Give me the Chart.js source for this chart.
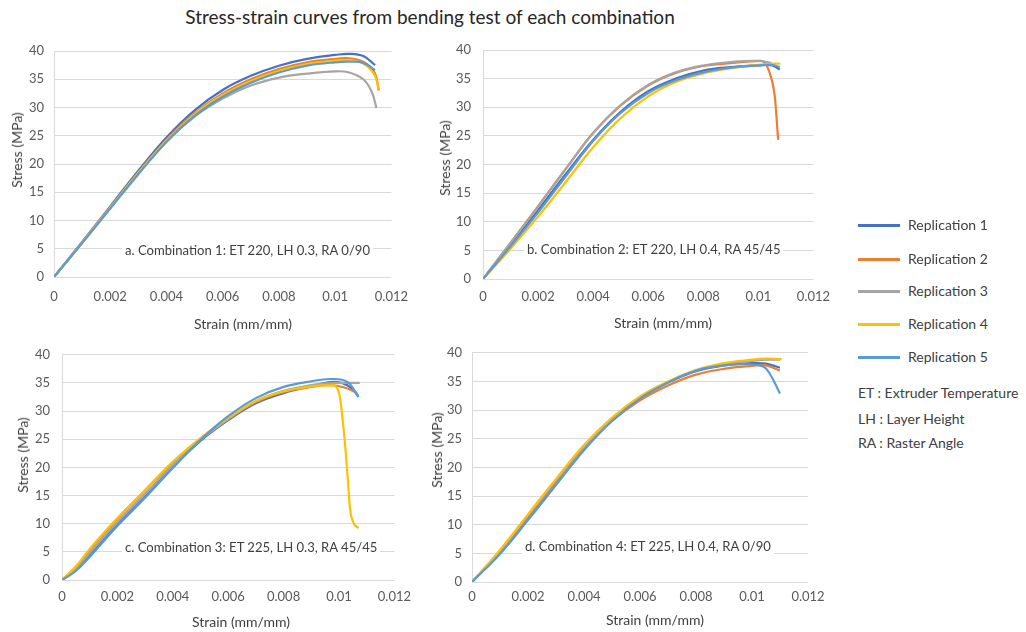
<!DOCTYPE html>
<html><head><meta charset="utf-8">
<script src="https://cdn.jsdelivr.net/npm/chart.js@4.4.1/dist/chart.umd.min.js"></script>
<style>
body{margin:0;background:#fff;width:1026px;height:632px;overflow:hidden;position:relative;font-family:Lato,"Open Sans",sans-serif;color:#404040}
.pnl{position:absolute}
.txt{position:absolute;white-space:nowrap;line-height:1}
.rot{transform:translate(-50%,-50%) rotate(-90deg)}
.ctr{transform:translate(-50%,-50%)}
.ann{background:#fff;padding:1px 3px;transform:translateY(-50%);font-size:13.1px;color:#404040}
.sw{position:absolute;height:2.5px;width:42px}
</style></head>
<body>
<div class="txt ctr" style="left:430px;top:16px;font-size:19px;color:#262626">Stress-strain curves from bending test of each combination</div>
<script>
// ---- data ----
const seriesNames = ['Replication 1','Replication 2','Replication 3','Replication 4','Replication 5'];
const xTicks = [0,0.002,0.004,0.006,0.008,0.01,0.012];
const yTicks = [0,5,10,15,20,25,30,35,40];

// a. Combination 1
const aStrain1 = [0,0.001,0.002,0.003,0.004,0.005,0.006,0.007,0.008,0.009,0.010,0.0105,0.011,0.01142];
const aStress1 = [0,6.2,12.5,18.8,24.7,29.5,33.1,35.6,37.4,38.6,39.3,39.5,39.1,37.5];
const aStrain2 = [0,0.001,0.002,0.003,0.004,0.005,0.006,0.007,0.008,0.009,0.010,0.0105,0.011,0.0114,0.01155];
const aStress2 = [0,6.1,12.3,18.5,24.3,29.0,32.5,35.0,36.8,38.0,38.6,38.7,38.1,36.2,33.0];
const aStrain3 = [0,0.001,0.002,0.003,0.004,0.005,0.006,0.007,0.008,0.009,0.010,0.0105,0.011,0.0113,0.01147];
const aStress3 = [0,6.1,12.3,18.4,24.0,28.4,31.6,33.9,35.3,36.0,36.4,36.2,35.0,32.8,29.9];
const aStrain4 = [0,0.001,0.002,0.003,0.004,0.005,0.006,0.007,0.008,0.009,0.010,0.0105,0.011,0.0114,0.01155];
const aStress4 = [0,6.0,12.2,18.4,24.1,28.8,32.2,34.7,36.5,37.7,38.3,38.4,37.8,35.8,33.2];
const aStrain5 = [0,0.001,0.002,0.003,0.004,0.005,0.006,0.007,0.008,0.009,0.010,0.0105,0.011,0.01142];
const aStress5 = [0,6.0,12.1,18.2,23.9,28.5,31.9,34.4,36.2,37.4,38.0,38.1,37.9,36.6];

// b. Combination 2
const bStrain1 = [0,0.001,0.002,0.003,0.004,0.005,0.006,0.007,0.008,0.009,0.010,0.0105,0.01078];
const bStress1 = [0,5.9,12.0,18.3,24.3,29.2,32.8,35.0,36.4,37.0,37.3,37.3,36.6];
const bStrain2 = [0,0.001,0.002,0.003,0.004,0.005,0.006,0.007,0.008,0.009,0.0097,0.0101,0.0103,0.01042,0.0106,0.01072];
const bStress2 = [0,6.3,12.7,19.2,25.5,30.3,33.8,36.0,37.2,37.7,38.0,38.1,37.3,35.9,31.8,24.3];
const bStrain3 = [0,0.001,0.002,0.003,0.004,0.005,0.006,0.007,0.008,0.009,0.010,0.01048];
const bStress3 = [0,6.3,12.7,19.2,25.5,30.4,33.9,36.1,37.3,37.9,38.1,37.7];
const bStrain4 = [0,0.001,0.002,0.003,0.004,0.005,0.006,0.007,0.008,0.009,0.010,0.0105,0.0108];
const bStress4 = [0,5.3,10.9,16.9,23.0,28.1,31.9,34.4,35.9,36.8,37.4,37.6,37.6];
const bStrain5 = [0,0.001,0.002,0.003,0.004,0.005,0.006,0.007,0.008,0.009,0.010,0.0105,0.01078];
const bStress5 = [0,5.7,11.6,17.9,24.1,29.0,32.5,34.7,36.1,36.9,37.3,37.4,37.0];

// c. Combination 3
const cStrain1 = [0,0.0005,0.001,0.002,0.003,0.004,0.005,0.006,0.007,0.008,0.009,0.0098,0.0103,0.0107];
const cStress1 = [0,1.8,4.4,9.8,14.8,20.0,24.7,28.4,31.4,33.2,34.4,35.2,34.6,32.7];
const cStrain2 = [0,0.0005,0.001,0.002,0.003,0.004,0.005,0.006,0.007,0.008,0.009,0.0097,0.0102,0.01066];
const cStress2 = [0,2.3,5.3,10.9,15.9,20.9,25.1,28.6,31.6,33.4,34.3,34.6,34.2,33.2];
const cStrain3 = [0,0.0005,0.001,0.002,0.003,0.004,0.005,0.006,0.007,0.008,0.009,0.0098,0.0103,0.01075];
const cStress3 = [0,2.0,4.8,10.3,15.3,20.4,24.9,28.6,31.7,33.6,34.6,35.0,35.0,35.0];
const cStrain4 = [0,0.0005,0.001,0.002,0.003,0.004,0.005,0.006,0.007,0.008,0.009,0.0098,0.01002,0.0101,0.01022,0.01031,0.0104,0.01051,0.0107];
const cStress4 = [0,2.4,5.5,11.0,16.0,21.0,25.2,28.8,31.8,33.5,34.4,34.6,32.8,29.9,24.1,18.4,12.6,10.3,9.2];
const cStrain5 = [0,0.0005,0.001,0.002,0.003,0.004,0.005,0.006,0.007,0.008,0.009,0.0097,0.0103,0.0107];
const cStress5 = [0,1.6,4.1,9.6,14.6,19.9,24.9,29.1,32.3,34.3,35.3,35.7,35.2,32.5];

// d. Combination 4
const dStrain1 = [0,0.001,0.002,0.003,0.004,0.005,0.006,0.007,0.008,0.009,0.010,0.0105,0.011];
const dStress1 = [0,5.2,11.3,17.4,23.4,28.3,32.1,34.8,36.8,37.8,38.2,38.1,37.4];
const dStrain2 = [0,0.001,0.002,0.003,0.004,0.005,0.006,0.007,0.008,0.009,0.010,0.0105,0.011];
const dStress2 = [0,5.3,11.4,17.5,23.4,28.1,31.7,34.3,36.2,37.2,37.7,37.8,36.9];
const dStrain3 = [0,0.001,0.002,0.003,0.004,0.005,0.006,0.007,0.008,0.009,0.010,0.0105,0.011];
const dStress3 = [0,5.4,11.6,17.7,23.6,28.5,32.2,34.9,36.9,38.0,38.6,38.8,38.8];
const dStrain4 = [0,0.001,0.002,0.003,0.004,0.005,0.006,0.007,0.008,0.009,0.010,0.0105,0.01106];
const dStress4 = [0,5.6,11.8,18.0,23.9,28.7,32.4,35.0,37.0,38.2,38.8,39.0,38.9];
const dStrain5 = [0,0.001,0.002,0.003,0.004,0.005,0.006,0.007,0.008,0.009,0.0098,0.0104,0.01064,0.011];
const dStress5 = [0,4.9,10.8,16.9,23.0,28.1,32.0,34.8,36.9,37.8,38.0,37.6,36.3,32.9];

const panelLabels = [
  'a. Combination 1: ET 220, LH 0.3, RA 0/90',
  'b. Combination 2: ET 220, LH 0.4, RA 45/45',
  'c. Combination 3: ET 225, LH 0.3, RA 45/45',
  'd. Combination 4: ET 225, LH 0.4, RA 0/90'
];
const notes = ['ET : Extruder Temperature','LH : Layer Height','RA : Raster Angle'];

// ---- styles ----
const colors = ['#4472C4','#ED7D31','#A5A5A5','#FFC000','#5B9BD5'];
const FONT = 'Lato, "Open Sans", sans-serif';

function pts(xs, ys){ return xs.map((x,i)=>({x:x, y:ys[i]})); }

function makePanel(p){
  const [bl,bt,bw,bh] = p.box;
  const [L,T,R,B] = p.area;
  const div = document.createElement('div');
  div.className='pnl';
  div.style.left=bl+'px'; div.style.top=bt+'px'; div.style.width=bw+'px'; div.style.height=bh+'px';
  const cv = document.createElement('canvas');
  cv.width=bw; cv.height=bh; cv.style.width=bw+'px'; cv.style.height=bh+'px';
  div.appendChild(cv); document.body.appendChild(div);
  new Chart(cv.getContext('2d'), {
    type:'scatter',
    data:{ datasets: p.series.map((s,i)=>({
      label: seriesNames[i], data: pts(s[0], s[1]), showLine:true,
      borderColor: colors[i], backgroundColor: colors[i], borderWidth: 2.2,
      pointRadius:0, order: 4-i,
      cubicInterpolationMode: (p.steep===i) ? 'monotone' : 'default',
      tension: 0.4
    }))},
    options:{
      responsive:false, animation:false, devicePixelRatio:1,
      layout:{padding:{left:0, top:T-bt, right:bl+bw-R, bottom:0}},
      plugins:{legend:{display:false}, tooltip:{enabled:false}},
      scales:{
        x:{type:'linear', min:0, max:0.012,
          afterBuildTicks:s=>{s.ticks = xTicks.map(v=>({value:v}));},
          afterFit:s=>{s.height = bt+bh-B;},
          grid:{display:false, drawTicks:false},
          border:{display:false},
          ticks:{padding:p.xPad, color:'#595959', font:{family:FONT,size:13}, maxRotation:0,
            callback:v=>String(+(+v).toFixed(4))}
        },
        y:{type:'linear', min:0, max:40,
          afterBuildTicks:s=>{s.ticks = yTicks.map(v=>({value:v}));},
          afterFit:s=>{s.width = L-bl;},
          grid:{color:'#d9d9d9', lineWidth:1, drawTicks:false},
          border:{display:true, color:'#d9d9d9', width:1},
          ticks:{padding:p.yPad, color:'#595959', font:{family:FONT,size:13}}
        }
      }
    }
  });
}

const panels = [
  {box:[0,30,420,305], area:[54,51,394,277], xPad:12, yPad:10, steep:-1,
   series:[[aStrain1,aStress1],[aStrain2,aStress2],[aStrain3,aStress3],[aStrain4,aStress4],[aStrain5,aStress5]],
   yTitle:[17,150], xTitle:[243,324], ann:[122,251]},
  {box:[420,30,420,305], area:[483,50,820,279], xPad:10, yPad:12, steep:1,
   series:[[bStrain1,bStress1],[bStrain2,bStress2],[bStrain3,bStress3],[bStrain4,bStress4],[bStrain5,bStress5]],
   yTitle:[445,158], xTitle:[663,323], ann:[524,250]},
  {box:[0,335,420,297], area:[62,348,398,580], xPad:9, yPad:12, steep:3,
   series:[[cStrain1,cStress1],[cStrain2,cStress2],[cStrain3,cStress3],[cStrain4,cStress4],[cStrain5,cStress5]],
   yTitle:[23,455], xTitle:[241,622], ann:[122,548]},
  {box:[420,335,420,297], area:[472,350,808,582], xPad:7, yPad:10, steep:-1,
   series:[[dStrain1,dStress1],[dStrain2,dStress2],[dStrain3,dStress3],[dStrain4,dStress4],[dStrain5,dStress5]],
   yTitle:[437,450], xTitle:[655,620], ann:[522,547]}
];

function addText(txt, x, y, cls, extra){
  const d=document.createElement('div');
  d.className='txt '+cls; d.textContent=txt;
  d.style.left=x+'px'; d.style.top=y+'px';
  if(extra) Object.assign(d.style, extra);
  document.body.appendChild(d); return d;
}

panels.forEach((p,i)=>{
  makePanel(p);
  addText('Stress (MPa)', p.yTitle[0], p.yTitle[1], 'rot', {fontSize:'14px', color:'#404040'});
  addText('Strain (mm/mm)', p.xTitle[0], p.xTitle[1], 'ctr', {fontSize:'14px', color:'#404040'});
  addText(panelLabels[i], p.ann[0], p.ann[1], 'ann');
});

// legend
const legY = [225,259,291,324,357];
seriesNames.forEach((n,i)=>{
  const sw=document.createElement('div'); sw.className='sw';
  sw.style.left='858px'; sw.style.top=(legY[i]-1)+'px'; sw.style.background=colors[i];
  document.body.appendChild(sw);
  addText(n, 908, legY[i], '', {fontSize:'14px', color:'#404040', transform:'translateY(-50%)'});
});
const noteY=[393,419,443];
notes.forEach((n,i)=>addText(n, 858, noteY[i], '', {fontSize:'14px', color:'#404040', transform:'translateY(-50%)'}));
</script>
</body></html>
